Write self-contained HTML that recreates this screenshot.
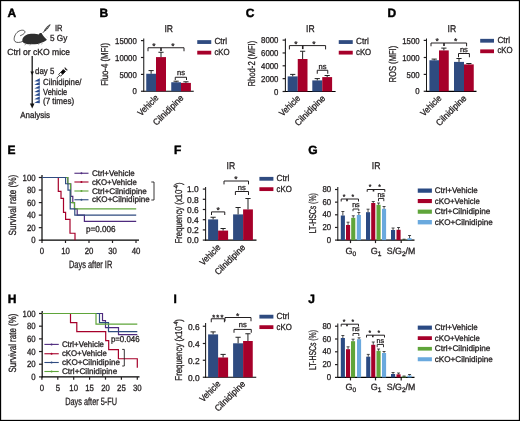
<!DOCTYPE html>
<html><head><meta charset="utf-8"><style>
html,body{margin:0;padding:0;background:#fff;}
svg{display:block;will-change:transform;}
text{text-rendering:geometricPrecision;font-family:"Liberation Sans",sans-serif;fill:#231f20;stroke:#231f20;stroke-width:0.3px;}
</style></head><body>
<svg width="520" height="421" viewBox="0 0 520 421">
<rect width="520" height="421" fill="#fff"/>
<rect x="0.5" y="0.5" width="519" height="420" fill="none" stroke="#000" stroke-width="1.3"/>
<text x="7.40" y="17.45" font-size="12" font-weight="bold" fill="#000" style="fill:#000;stroke:#000;stroke-width:0.45px">A</text>
<text x="99.50" y="17.45" font-size="12" font-weight="bold" fill="#000" style="fill:#000;stroke:#000;stroke-width:0.45px">B</text>
<text x="245.80" y="17.45" font-size="12" font-weight="bold" fill="#000" style="fill:#000;stroke:#000;stroke-width:0.45px">C</text>
<text x="387.60" y="17.45" font-size="12" font-weight="bold" fill="#000" style="fill:#000;stroke:#000;stroke-width:0.45px">D</text>
<text x="7.60" y="154.05" font-size="12" font-weight="bold" fill="#000" style="fill:#000;stroke:#000;stroke-width:0.45px">E</text>
<text x="173.90" y="154.05" font-size="12" font-weight="bold" fill="#000" style="fill:#000;stroke:#000;stroke-width:0.45px">F</text>
<text x="308.20" y="154.35" font-size="12" font-weight="bold" fill="#000" style="fill:#000;stroke:#000;stroke-width:0.45px">G</text>
<text x="7.70" y="302.85" font-size="12" font-weight="bold" fill="#000" style="fill:#000;stroke:#000;stroke-width:0.45px">H</text>
<text x="173.50" y="302.85" font-size="12" font-weight="bold" fill="#000" style="fill:#000;stroke:#000;stroke-width:0.45px">I</text>
<text x="308.20" y="302.85" font-size="12" font-weight="bold" fill="#000" style="fill:#000;stroke:#000;stroke-width:0.45px">J</text>
<line x1="143.75" y1="38.50" x2="143.75" y2="91.80" stroke="#1a1a1a" stroke-width="1.05"/>
<line x1="143.20" y1="91.25" x2="193.75" y2="91.25" stroke="#000" stroke-width="1.2"/>
<line x1="140.95" y1="91.25" x2="143.75" y2="91.25" stroke="#231f20" stroke-width="1.2"/>
<text x="136.80" y="94.40" font-size="8.5" text-anchor="end" textLength="4.34" lengthAdjust="spacingAndGlyphs">0</text>
<line x1="140.95" y1="74.40" x2="143.75" y2="74.40" stroke="#231f20" stroke-width="1.2"/>
<text x="136.80" y="77.55" font-size="8.5" text-anchor="end" textLength="17.35" lengthAdjust="spacingAndGlyphs">5000</text>
<line x1="140.95" y1="57.50" x2="143.75" y2="57.50" stroke="#231f20" stroke-width="1.2"/>
<text x="136.80" y="60.65" font-size="8.5" text-anchor="end" textLength="21.69" lengthAdjust="spacingAndGlyphs">10000</text>
<line x1="140.95" y1="40.60" x2="143.75" y2="40.60" stroke="#231f20" stroke-width="1.2"/>
<text x="136.80" y="43.75" font-size="8.5" text-anchor="end" textLength="21.69" lengthAdjust="spacingAndGlyphs">15000</text>
<rect x="146.25" y="73.75" width="9.75" height="17.50" fill="#2f4b80"/>
<line x1="151.12" y1="73.75" x2="151.12" y2="70.60" stroke="#222" stroke-width="1.0"/>
<line x1="148.53" y1="70.60" x2="153.72" y2="70.60" stroke="#222" stroke-width="1.0"/>
<rect x="156.00" y="57.10" width="10.00" height="34.15" fill="#a6002a"/>
<line x1="161.00" y1="57.10" x2="161.00" y2="52.25" stroke="#222" stroke-width="1.0"/>
<line x1="158.40" y1="52.25" x2="163.60" y2="52.25" stroke="#222" stroke-width="1.0"/>
<rect x="171.25" y="82.25" width="9.75" height="9.00" fill="#2f4b80"/>
<line x1="176.12" y1="82.25" x2="176.12" y2="81.20" stroke="#222" stroke-width="1.0"/>
<line x1="173.53" y1="81.20" x2="178.72" y2="81.20" stroke="#222" stroke-width="1.0"/>
<rect x="181.00" y="82.90" width="9.90" height="8.35" fill="#a6002a"/>
<line x1="185.95" y1="82.90" x2="185.95" y2="81.80" stroke="#222" stroke-width="1.0"/>
<line x1="183.35" y1="81.80" x2="188.55" y2="81.80" stroke="#222" stroke-width="1.0"/>
<polyline points="148.00,51.25 148.00,47.75 184.00,47.75 184.00,51.25" fill="none" stroke="#231f20" stroke-width="1.0"/>
<line x1="161.00" y1="47.75" x2="161.00" y2="50.95" stroke="#231f20" stroke-width="1.6"/>
<text x="154.00" y="48.85" font-size="8.5" text-anchor="middle">*</text>
<text x="172.90" y="48.85" font-size="8.5" text-anchor="middle">*</text>
<polyline points="175.25,80.00 175.25,77.25 186.50,77.25 186.50,80.00" fill="none" stroke="#231f20" stroke-width="1.0"/>
<text x="181.00" y="74.60" font-size="7.5" text-anchor="middle">ns</text>
<text x="168.75" y="32.10" font-size="9.8" text-anchor="middle" textLength="8.60" lengthAdjust="spacingAndGlyphs">IR</text>
<text x="0.00" y="0.00" font-size="10" text-anchor="middle" textLength="43.00" lengthAdjust="spacingAndGlyphs" transform="translate(107.90,64.35) rotate(-90)">Fluo-4 (MFI)</text>
<rect x="197.25" y="40.15" width="14.00" height="3.80" fill="#2f4b80"/>
<rect x="197.25" y="50.75" width="14.00" height="3.80" fill="#a6002a"/>
<text x="214.40" y="44.40" font-size="8.8" textLength="12.80" lengthAdjust="spacingAndGlyphs">Ctrl</text>
<text x="214.40" y="54.50" font-size="8.8" textLength="15.20" lengthAdjust="spacingAndGlyphs">cKO</text>
<text x="0.00" y="0.00" font-size="9" text-anchor="end" textLength="25.50" lengthAdjust="spacingAndGlyphs" transform="translate(159.20,98.50) rotate(-45)">Vehicle</text>
<text x="0.00" y="0.00" font-size="9" text-anchor="end" textLength="39.00" lengthAdjust="spacingAndGlyphs" transform="translate(184.20,98.50) rotate(-45)">Cilnidipine</text>
<line x1="285.40" y1="38.50" x2="285.40" y2="92.05" stroke="#1a1a1a" stroke-width="1.05"/>
<line x1="284.85" y1="91.50" x2="335.60" y2="91.50" stroke="#000" stroke-width="1.2"/>
<line x1="282.60" y1="91.50" x2="285.40" y2="91.50" stroke="#231f20" stroke-width="1.2"/>
<text x="278.40" y="94.65" font-size="8.5" text-anchor="end" textLength="4.34" lengthAdjust="spacingAndGlyphs">0</text>
<line x1="282.60" y1="78.65" x2="285.40" y2="78.65" stroke="#231f20" stroke-width="1.2"/>
<text x="278.40" y="81.80" font-size="8.5" text-anchor="end" textLength="17.35" lengthAdjust="spacingAndGlyphs">2000</text>
<line x1="282.60" y1="65.80" x2="285.40" y2="65.80" stroke="#231f20" stroke-width="1.2"/>
<text x="278.40" y="68.95" font-size="8.5" text-anchor="end" textLength="17.35" lengthAdjust="spacingAndGlyphs">4000</text>
<line x1="282.60" y1="52.95" x2="285.40" y2="52.95" stroke="#231f20" stroke-width="1.2"/>
<text x="278.40" y="56.10" font-size="8.5" text-anchor="end" textLength="17.35" lengthAdjust="spacingAndGlyphs">6000</text>
<line x1="282.60" y1="40.10" x2="285.40" y2="40.10" stroke="#231f20" stroke-width="1.2"/>
<text x="278.40" y="43.25" font-size="8.5" text-anchor="end" textLength="17.35" lengthAdjust="spacingAndGlyphs">8000</text>
<rect x="287.70" y="76.40" width="10.05" height="15.10" fill="#2f4b80"/>
<line x1="292.73" y1="76.40" x2="292.73" y2="74.40" stroke="#222" stroke-width="1.0"/>
<line x1="290.12" y1="74.40" x2="295.33" y2="74.40" stroke="#222" stroke-width="1.0"/>
<rect x="297.75" y="59.00" width="9.75" height="32.50" fill="#a6002a"/>
<line x1="302.62" y1="59.00" x2="302.62" y2="51.25" stroke="#222" stroke-width="1.0"/>
<line x1="300.02" y1="51.25" x2="305.23" y2="51.25" stroke="#222" stroke-width="1.0"/>
<rect x="312.30" y="80.40" width="9.95" height="11.10" fill="#2f4b80"/>
<line x1="317.27" y1="80.40" x2="317.27" y2="78.60" stroke="#222" stroke-width="1.0"/>
<line x1="314.67" y1="78.60" x2="319.88" y2="78.60" stroke="#222" stroke-width="1.0"/>
<rect x="322.25" y="77.10" width="9.85" height="14.40" fill="#a6002a"/>
<line x1="327.18" y1="77.10" x2="327.18" y2="75.50" stroke="#222" stroke-width="1.0"/>
<line x1="324.57" y1="75.50" x2="329.78" y2="75.50" stroke="#222" stroke-width="1.0"/>
<polyline points="289.40,49.40 289.40,45.60 325.60,45.60 325.60,49.40" fill="none" stroke="#231f20" stroke-width="1.0"/>
<line x1="302.75" y1="45.60" x2="302.75" y2="49.10" stroke="#231f20" stroke-width="1.6"/>
<text x="295.90" y="47.00" font-size="8.5" text-anchor="middle">*</text>
<text x="314.00" y="47.00" font-size="8.5" text-anchor="middle">*</text>
<polyline points="317.25,73.75 317.25,70.25 327.75,70.25 327.75,73.75" fill="none" stroke="#231f20" stroke-width="1.0"/>
<text x="322.50" y="68.75" font-size="7.5" text-anchor="middle">ns</text>
<text x="310.40" y="32.10" font-size="9.8" text-anchor="middle" textLength="8.60" lengthAdjust="spacingAndGlyphs">IR</text>
<text x="0.00" y="0.00" font-size="10" text-anchor="middle" textLength="45.80" lengthAdjust="spacingAndGlyphs" transform="translate(254.80,63.70) rotate(-90)">Rhod-2 (MFI)</text>
<rect x="338.75" y="40.15" width="14.00" height="3.80" fill="#2f4b80"/>
<rect x="338.75" y="50.75" width="14.00" height="3.80" fill="#a6002a"/>
<text x="356.00" y="44.40" font-size="8.8" textLength="12.80" lengthAdjust="spacingAndGlyphs">Ctrl</text>
<text x="356.00" y="54.50" font-size="8.8" textLength="15.20" lengthAdjust="spacingAndGlyphs">cKO</text>
<text x="0.00" y="0.00" font-size="9" text-anchor="end" textLength="25.50" lengthAdjust="spacingAndGlyphs" transform="translate(300.80,98.80) rotate(-45)">Vehicle</text>
<text x="0.00" y="0.00" font-size="9" text-anchor="end" textLength="39.00" lengthAdjust="spacingAndGlyphs" transform="translate(325.80,98.80) rotate(-45)">Cilnidipine</text>
<line x1="426.50" y1="38.50" x2="426.50" y2="91.85" stroke="#1a1a1a" stroke-width="1.05"/>
<line x1="425.95" y1="91.30" x2="476.50" y2="91.30" stroke="#000" stroke-width="1.2"/>
<line x1="423.70" y1="91.30" x2="426.50" y2="91.30" stroke="#231f20" stroke-width="1.2"/>
<text x="419.60" y="94.45" font-size="8.5" text-anchor="end" textLength="4.34" lengthAdjust="spacingAndGlyphs">0</text>
<line x1="423.70" y1="74.40" x2="426.50" y2="74.40" stroke="#231f20" stroke-width="1.2"/>
<text x="419.60" y="77.55" font-size="8.5" text-anchor="end" textLength="13.01" lengthAdjust="spacingAndGlyphs">500</text>
<line x1="423.70" y1="57.50" x2="426.50" y2="57.50" stroke="#231f20" stroke-width="1.2"/>
<text x="419.60" y="60.65" font-size="8.5" text-anchor="end" textLength="17.35" lengthAdjust="spacingAndGlyphs">1000</text>
<line x1="423.70" y1="40.40" x2="426.50" y2="40.40" stroke="#231f20" stroke-width="1.2"/>
<text x="419.60" y="43.55" font-size="8.5" text-anchor="end" textLength="17.35" lengthAdjust="spacingAndGlyphs">1500</text>
<rect x="429.40" y="60.25" width="9.60" height="31.05" fill="#2f4b80"/>
<line x1="434.20" y1="60.25" x2="434.20" y2="59.10" stroke="#222" stroke-width="1.0"/>
<line x1="431.60" y1="59.10" x2="436.80" y2="59.10" stroke="#222" stroke-width="1.0"/>
<rect x="439.00" y="50.40" width="9.75" height="40.90" fill="#a6002a"/>
<line x1="443.88" y1="50.40" x2="443.88" y2="48.10" stroke="#222" stroke-width="1.0"/>
<line x1="441.27" y1="48.10" x2="446.48" y2="48.10" stroke="#222" stroke-width="1.0"/>
<rect x="454.00" y="61.90" width="10.00" height="29.40" fill="#2f4b80"/>
<line x1="459.00" y1="61.90" x2="459.00" y2="58.50" stroke="#222" stroke-width="1.0"/>
<line x1="456.40" y1="58.50" x2="461.60" y2="58.50" stroke="#222" stroke-width="1.0"/>
<rect x="464.00" y="64.40" width="9.75" height="26.90" fill="#a6002a"/>
<line x1="468.88" y1="64.40" x2="468.88" y2="63.50" stroke="#222" stroke-width="1.0"/>
<line x1="466.27" y1="63.50" x2="471.48" y2="63.50" stroke="#222" stroke-width="1.0"/>
<polyline points="431.00,46.25 431.00,43.00 466.60,43.00 466.60,46.25" fill="none" stroke="#231f20" stroke-width="1.0"/>
<line x1="444.00" y1="43.00" x2="444.00" y2="45.95" stroke="#231f20" stroke-width="1.6"/>
<text x="437.25" y="44.10" font-size="8.5" text-anchor="middle">*</text>
<text x="455.60" y="44.10" font-size="8.5" text-anchor="middle">*</text>
<polyline points="458.50,57.25 458.50,53.50 469.40,53.50 469.40,57.25" fill="none" stroke="#231f20" stroke-width="1.0"/>
<text x="463.90" y="51.90" font-size="7.5" text-anchor="middle">ns</text>
<text x="451.90" y="32.10" font-size="9.8" text-anchor="middle" textLength="8.60" lengthAdjust="spacingAndGlyphs">IR</text>
<text x="0.00" y="0.00" font-size="10" text-anchor="middle" textLength="36.60" lengthAdjust="spacingAndGlyphs" transform="translate(395.80,64.10) rotate(-90)">ROS (MFI)</text>
<rect x="480.20" y="38.85" width="13.80" height="3.80" fill="#2f4b80"/>
<rect x="480.20" y="49.40" width="13.80" height="3.80" fill="#a6002a"/>
<text x="497.40" y="43.00" font-size="8.8" textLength="12.80" lengthAdjust="spacingAndGlyphs">Ctrl</text>
<text x="497.40" y="53.40" font-size="8.8" textLength="15.20" lengthAdjust="spacingAndGlyphs">cKO</text>
<text x="0.00" y="0.00" font-size="9" text-anchor="end" textLength="25.50" lengthAdjust="spacingAndGlyphs" transform="translate(442.00,98.80) rotate(-45)">Vehicle</text>
<text x="0.00" y="0.00" font-size="9" text-anchor="end" textLength="39.00" lengthAdjust="spacingAndGlyphs" transform="translate(467.00,98.80) rotate(-45)">Cilnidipine</text>
<line x1="205.60" y1="186.90" x2="205.60" y2="240.65" stroke="#1a1a1a" stroke-width="1.05"/>
<line x1="205.05" y1="240.10" x2="256.50" y2="240.10" stroke="#000" stroke-width="1.2"/>
<line x1="202.80" y1="240.10" x2="205.60" y2="240.10" stroke="#231f20" stroke-width="1.2"/>
<text x="198.80" y="243.40" font-size="8.5" text-anchor="end" textLength="11.68" lengthAdjust="spacingAndGlyphs">0.0</text>
<line x1="202.80" y1="229.90" x2="205.60" y2="229.90" stroke="#231f20" stroke-width="1.2"/>
<text x="198.80" y="233.20" font-size="8.5" text-anchor="end" textLength="11.68" lengthAdjust="spacingAndGlyphs">0.2</text>
<line x1="202.80" y1="219.70" x2="205.60" y2="219.70" stroke="#231f20" stroke-width="1.2"/>
<text x="198.80" y="223.00" font-size="8.5" text-anchor="end" textLength="11.68" lengthAdjust="spacingAndGlyphs">0.4</text>
<line x1="202.80" y1="209.50" x2="205.60" y2="209.50" stroke="#231f20" stroke-width="1.2"/>
<text x="198.80" y="212.80" font-size="8.5" text-anchor="end" textLength="11.68" lengthAdjust="spacingAndGlyphs">0.6</text>
<line x1="202.80" y1="199.30" x2="205.60" y2="199.30" stroke="#231f20" stroke-width="1.2"/>
<text x="198.80" y="202.60" font-size="8.5" text-anchor="end" textLength="11.68" lengthAdjust="spacingAndGlyphs">0.8</text>
<line x1="202.80" y1="189.10" x2="205.60" y2="189.10" stroke="#231f20" stroke-width="1.2"/>
<text x="198.80" y="192.40" font-size="8.5" text-anchor="end" textLength="11.68" lengthAdjust="spacingAndGlyphs">1.0</text>
<rect x="208.10" y="219.40" width="10.00" height="20.70" fill="#2f4b80"/>
<line x1="213.10" y1="219.40" x2="213.10" y2="217.25" stroke="#222" stroke-width="1.0"/>
<line x1="210.50" y1="217.25" x2="215.70" y2="217.25" stroke="#222" stroke-width="1.0"/>
<rect x="218.10" y="230.60" width="10.00" height="9.50" fill="#a6002a"/>
<line x1="223.10" y1="230.60" x2="223.10" y2="228.50" stroke="#222" stroke-width="1.0"/>
<line x1="220.50" y1="228.50" x2="225.70" y2="228.50" stroke="#222" stroke-width="1.0"/>
<rect x="233.10" y="214.40" width="10.00" height="25.70" fill="#2f4b80"/>
<line x1="238.10" y1="214.40" x2="238.10" y2="207.50" stroke="#222" stroke-width="1.0"/>
<line x1="235.50" y1="207.50" x2="240.70" y2="207.50" stroke="#222" stroke-width="1.0"/>
<rect x="243.10" y="209.40" width="9.80" height="30.70" fill="#a6002a"/>
<line x1="248.00" y1="209.40" x2="248.00" y2="198.50" stroke="#222" stroke-width="1.0"/>
<line x1="245.40" y1="198.50" x2="250.60" y2="198.50" stroke="#222" stroke-width="1.0"/>
<polyline points="211.50,215.00 211.50,211.90 224.75,211.90 224.75,215.00" fill="none" stroke="#231f20" stroke-width="1.0"/>
<text x="218.10" y="213.40" font-size="8.5" text-anchor="middle">*</text>
<polyline points="224.00,184.40 224.00,181.00 248.50,181.00 248.50,184.40" fill="none" stroke="#231f20" stroke-width="1.0"/>
<text x="236.00" y="182.20" font-size="8.5" text-anchor="middle">*</text>
<polyline points="235.40,195.00 235.40,191.50 248.50,191.50 248.50,195.00" fill="none" stroke="#231f20" stroke-width="1.0"/>
<text x="241.80" y="189.75" font-size="7.5" text-anchor="middle">ns</text>
<text x="230.90" y="168.75" font-size="9.8" text-anchor="middle" textLength="8.60" lengthAdjust="spacingAndGlyphs">IR</text>
<rect x="259.40" y="176.90" width="14.00" height="3.80" fill="#2f4b80"/>
<rect x="259.40" y="187.25" width="14.00" height="3.80" fill="#a6002a"/>
<text x="276.60" y="181.00" font-size="8.8" textLength="12.80" lengthAdjust="spacingAndGlyphs">Ctrl</text>
<text x="276.60" y="191.50" font-size="8.8" textLength="15.20" lengthAdjust="spacingAndGlyphs">cKO</text>
<text x="0.00" y="0.00" font-size="9" text-anchor="end" textLength="25.50" lengthAdjust="spacingAndGlyphs" transform="translate(221.20,248.00) rotate(-45)">Vehicle</text>
<text x="0.00" y="0.00" font-size="9" text-anchor="end" textLength="39.00" lengthAdjust="spacingAndGlyphs" transform="translate(245.80,248.00) rotate(-45)">Cilnidipine</text>
<line x1="205.60" y1="323.10" x2="205.60" y2="377.80" stroke="#1a1a1a" stroke-width="1.05"/>
<line x1="205.05" y1="377.25" x2="256.25" y2="377.25" stroke="#000" stroke-width="1.2"/>
<line x1="202.80" y1="377.25" x2="205.60" y2="377.25" stroke="#231f20" stroke-width="1.2"/>
<text x="199.60" y="380.55" font-size="8.5" text-anchor="end" textLength="11.68" lengthAdjust="spacingAndGlyphs">0.0</text>
<line x1="202.80" y1="360.25" x2="205.60" y2="360.25" stroke="#231f20" stroke-width="1.2"/>
<text x="199.60" y="363.55" font-size="8.5" text-anchor="end" textLength="11.68" lengthAdjust="spacingAndGlyphs">0.2</text>
<line x1="202.80" y1="343.50" x2="205.60" y2="343.50" stroke="#231f20" stroke-width="1.2"/>
<text x="199.60" y="346.80" font-size="8.5" text-anchor="end" textLength="11.68" lengthAdjust="spacingAndGlyphs">0.4</text>
<line x1="202.80" y1="326.25" x2="205.60" y2="326.25" stroke="#231f20" stroke-width="1.2"/>
<text x="199.60" y="329.55" font-size="8.5" text-anchor="end" textLength="11.68" lengthAdjust="spacingAndGlyphs">0.6</text>
<rect x="208.10" y="334.40" width="10.00" height="42.85" fill="#2f4b80"/>
<line x1="213.10" y1="334.40" x2="213.10" y2="331.90" stroke="#222" stroke-width="1.0"/>
<line x1="210.50" y1="331.90" x2="215.70" y2="331.90" stroke="#222" stroke-width="1.0"/>
<rect x="218.10" y="357.50" width="10.00" height="19.75" fill="#a6002a"/>
<line x1="223.10" y1="357.50" x2="223.10" y2="354.40" stroke="#222" stroke-width="1.0"/>
<line x1="220.50" y1="354.40" x2="225.70" y2="354.40" stroke="#222" stroke-width="1.0"/>
<rect x="233.10" y="343.30" width="10.00" height="33.95" fill="#2f4b80"/>
<line x1="238.10" y1="343.30" x2="238.10" y2="337.25" stroke="#222" stroke-width="1.0"/>
<line x1="235.50" y1="337.25" x2="240.70" y2="337.25" stroke="#222" stroke-width="1.0"/>
<rect x="243.10" y="341.00" width="9.65" height="36.25" fill="#a6002a"/>
<line x1="247.93" y1="341.00" x2="247.93" y2="333.75" stroke="#222" stroke-width="1.0"/>
<line x1="245.33" y1="333.75" x2="250.53" y2="333.75" stroke="#222" stroke-width="1.0"/>
<polyline points="211.25,322.25 211.25,318.75 224.40,318.75 224.40,322.25" fill="none" stroke="#231f20" stroke-width="1.0"/>
<text x="213.60" y="319.50" font-size="7.5" text-anchor="middle">*</text>
<text x="217.80" y="319.50" font-size="7.5" text-anchor="middle">*</text>
<text x="222.00" y="319.50" font-size="7.5" text-anchor="middle">*</text>
<polyline points="225.00,321.25 225.00,317.50 251.00,317.50 251.00,321.25" fill="none" stroke="#231f20" stroke-width="1.0"/>
<text x="237.75" y="318.90" font-size="8.5" text-anchor="middle">*</text>
<polyline points="234.00,332.75 234.00,329.40 251.25,329.40 251.25,332.75" fill="none" stroke="#231f20" stroke-width="1.0"/>
<text x="242.80" y="326.90" font-size="7.5" text-anchor="middle">ns</text>
<rect x="259.40" y="314.75" width="14.00" height="3.80" fill="#2f4b80"/>
<rect x="259.40" y="325.25" width="14.00" height="3.80" fill="#a6002a"/>
<text x="276.60" y="319.00" font-size="8.8" textLength="12.80" lengthAdjust="spacingAndGlyphs">Ctrl</text>
<text x="276.60" y="329.50" font-size="8.8" textLength="15.20" lengthAdjust="spacingAndGlyphs">cKO</text>
<text x="0.00" y="0.00" font-size="9" text-anchor="end" textLength="25.50" lengthAdjust="spacingAndGlyphs" transform="translate(221.20,384.50) rotate(-45)">Vehicle</text>
<text x="0.00" y="0.00" font-size="9" text-anchor="end" textLength="39.00" lengthAdjust="spacingAndGlyphs" transform="translate(245.80,384.50) rotate(-45)">Cilnidipine</text>
<g transform="translate(182.00,213.00) rotate(-90) scale(0.7754,1)"><text x="-39.33" y="0" font-size="10" fill="#231f20">Frequency (x10<tspan font-size="6.60" dy="-4.2">-4</tspan><tspan dy="4.2">)</tspan></text></g>
<g transform="translate(182.00,349.90) rotate(-90) scale(0.7818,1)"><text x="-39.33" y="0" font-size="10" fill="#231f20">Frequency (x10<tspan font-size="6.60" dy="-4.2">-4</tspan><tspan dy="4.2">)</tspan></text></g>
<line x1="337.80" y1="186.90" x2="337.80" y2="240.65" stroke="#1a1a1a" stroke-width="1.05"/>
<line x1="337.25" y1="240.10" x2="414.50" y2="240.10" stroke="#000" stroke-width="1.2"/>
<line x1="335.00" y1="240.10" x2="337.80" y2="240.10" stroke="#231f20" stroke-width="1.2"/>
<text x="331.20" y="242.70" font-size="8.5" text-anchor="end" textLength="4.34" lengthAdjust="spacingAndGlyphs">0</text>
<line x1="335.00" y1="227.45" x2="337.80" y2="227.45" stroke="#231f20" stroke-width="1.2"/>
<text x="331.20" y="230.05" font-size="8.5" text-anchor="end" textLength="8.68" lengthAdjust="spacingAndGlyphs">20</text>
<line x1="335.00" y1="214.80" x2="337.80" y2="214.80" stroke="#231f20" stroke-width="1.2"/>
<text x="331.20" y="217.40" font-size="8.5" text-anchor="end" textLength="8.68" lengthAdjust="spacingAndGlyphs">40</text>
<line x1="335.00" y1="202.15" x2="337.80" y2="202.15" stroke="#231f20" stroke-width="1.2"/>
<text x="331.20" y="204.75" font-size="8.5" text-anchor="end" textLength="8.68" lengthAdjust="spacingAndGlyphs">60</text>
<line x1="335.00" y1="189.50" x2="337.80" y2="189.50" stroke="#231f20" stroke-width="1.2"/>
<text x="331.20" y="192.10" font-size="8.5" text-anchor="end" textLength="8.68" lengthAdjust="spacingAndGlyphs">80</text>
<rect x="340.80" y="215.50" width="4.10" height="24.60" fill="#2a4a83"/>
<line x1="342.85" y1="215.50" x2="342.85" y2="211.50" stroke="#222" stroke-width="0.8"/>
<line x1="341.35" y1="211.50" x2="344.35" y2="211.50" stroke="#222" stroke-width="0.8"/>
<rect x="346.00" y="225.00" width="4.10" height="15.10" fill="#a6002a"/>
<line x1="348.05" y1="225.00" x2="348.05" y2="222.20" stroke="#222" stroke-width="0.8"/>
<line x1="346.55" y1="222.20" x2="349.55" y2="222.20" stroke="#222" stroke-width="0.8"/>
<rect x="351.20" y="217.80" width="4.10" height="22.30" fill="#5fa53a"/>
<line x1="353.25" y1="217.80" x2="353.25" y2="215.80" stroke="#222" stroke-width="0.8"/>
<line x1="351.75" y1="215.80" x2="354.75" y2="215.80" stroke="#222" stroke-width="0.8"/>
<rect x="356.80" y="215.00" width="4.10" height="25.10" fill="#6aa9de"/>
<line x1="358.85" y1="215.00" x2="358.85" y2="212.50" stroke="#222" stroke-width="0.8"/>
<line x1="357.35" y1="212.50" x2="360.35" y2="212.50" stroke="#222" stroke-width="0.8"/>
<rect x="366.00" y="212.20" width="4.10" height="27.90" fill="#2a4a83"/>
<line x1="368.05" y1="212.20" x2="368.05" y2="209.20" stroke="#222" stroke-width="0.8"/>
<line x1="366.55" y1="209.20" x2="369.55" y2="209.20" stroke="#222" stroke-width="0.8"/>
<rect x="371.20" y="203.00" width="4.10" height="37.10" fill="#a6002a"/>
<line x1="373.25" y1="203.00" x2="373.25" y2="201.50" stroke="#222" stroke-width="0.8"/>
<line x1="371.75" y1="201.50" x2="374.75" y2="201.50" stroke="#222" stroke-width="0.8"/>
<rect x="376.50" y="204.80" width="4.10" height="35.30" fill="#5fa53a"/>
<line x1="378.55" y1="204.80" x2="378.55" y2="203.00" stroke="#222" stroke-width="0.8"/>
<line x1="377.05" y1="203.00" x2="380.05" y2="203.00" stroke="#222" stroke-width="0.8"/>
<rect x="382.00" y="208.80" width="4.10" height="31.30" fill="#6aa9de"/>
<line x1="384.05" y1="208.80" x2="384.05" y2="206.50" stroke="#222" stroke-width="0.8"/>
<line x1="382.55" y1="206.50" x2="385.55" y2="206.50" stroke="#222" stroke-width="0.8"/>
<rect x="391.00" y="230.00" width="4.10" height="10.10" fill="#2a4a83"/>
<line x1="393.05" y1="230.00" x2="393.05" y2="228.00" stroke="#222" stroke-width="0.8"/>
<line x1="391.55" y1="228.00" x2="394.55" y2="228.00" stroke="#222" stroke-width="0.8"/>
<rect x="396.50" y="229.80" width="4.10" height="10.30" fill="#a6002a"/>
<line x1="398.55" y1="229.80" x2="398.55" y2="227.50" stroke="#222" stroke-width="0.8"/>
<line x1="397.05" y1="227.50" x2="400.05" y2="227.50" stroke="#222" stroke-width="0.8"/>
<rect x="402.00" y="239.70" width="4.10" height="0.40" fill="#5fa53a"/>
<line x1="404.05" y1="239.70" x2="404.05" y2="239.20" stroke="#222" stroke-width="0.8"/>
<line x1="402.55" y1="239.20" x2="405.55" y2="239.20" stroke="#222" stroke-width="0.8"/>
<rect x="407.50" y="238.20" width="4.10" height="1.90" fill="#6aa9de"/>
<line x1="409.55" y1="238.20" x2="409.55" y2="235.50" stroke="#222" stroke-width="0.8"/>
<line x1="408.05" y1="235.50" x2="411.05" y2="235.50" stroke="#222" stroke-width="0.8"/>
<line x1="350.50" y1="240.10" x2="350.50" y2="243.10" stroke="#231f20" stroke-width="1.2"/>
<line x1="375.50" y1="240.10" x2="375.50" y2="243.10" stroke="#231f20" stroke-width="1.2"/>
<line x1="401.20" y1="240.10" x2="401.20" y2="243.10" stroke="#231f20" stroke-width="1.2"/>
<polyline points="341.20,201.50 341.20,199.00 358.50,199.00 358.50,201.50" fill="none" stroke="#231f20" stroke-width="1.0"/>
<line x1="347.00" y1="199.00" x2="347.00" y2="201.20" stroke="#231f20" stroke-width="1.6"/>
<text x="344.00" y="199.28" font-size="6.8" text-anchor="middle">*</text>
<text x="352.80" y="199.28" font-size="6.8" text-anchor="middle">*</text>
<polyline points="353.00,211.20 353.00,209.00 358.80,209.00 358.80,211.20" fill="none" stroke="#231f20" stroke-width="0.9"/>
<text x="355.90" y="206.50" font-size="7.1" text-anchor="middle">ns</text>
<polyline points="367.20,191.80 367.20,189.50 384.80,189.50 384.80,191.80" fill="none" stroke="#231f20" stroke-width="1.0"/>
<line x1="373.50" y1="189.50" x2="373.50" y2="191.50" stroke="#231f20" stroke-width="1.6"/>
<text x="370.20" y="189.28" font-size="6.8" text-anchor="middle">*</text>
<text x="379.50" y="189.28" font-size="6.8" text-anchor="middle">*</text>
<polyline points="378.50,201.20 378.50,198.50 383.80,198.50 383.80,201.20" fill="none" stroke="#231f20" stroke-width="0.9"/>
<text x="381.15" y="196.50" font-size="7.1" text-anchor="middle">ns</text>
<text x="345.5" y="254.00" font-size="9">G<tspan font-size="6.6" dy="2.2">0</tspan></text>
<text x="370.7" y="254.00" font-size="9">G<tspan font-size="6.6" dy="2.2">1</tspan></text>
<text x="386.8" y="254.00" font-size="9" textLength="28.4" lengthAdjust="spacingAndGlyphs">S/G<tspan font-size="6.6" dy="2.2">2</tspan><tspan dy="-2.2">/M</tspan></text>
<text x="376.10" y="168.75" font-size="9.8" text-anchor="middle" textLength="8.60" lengthAdjust="spacingAndGlyphs">IR</text>
<rect x="417.75" y="188.50" width="14.15" height="4.25" fill="#2a4a83"/>
<text x="434.75" y="193.25" font-size="8.2" textLength="43.00" lengthAdjust="spacingAndGlyphs">Ctrl+Vehicle</text>
<rect x="417.75" y="199.00" width="14.15" height="4.10" fill="#a6002a"/>
<text x="434.75" y="203.60" font-size="8.2" textLength="45.00" lengthAdjust="spacingAndGlyphs">cKO+Vehicle</text>
<rect x="417.75" y="209.60" width="14.15" height="4.15" fill="#5fa53a"/>
<text x="434.75" y="214.25" font-size="8.2" textLength="55.65" lengthAdjust="spacingAndGlyphs">Ctrl+Cilnidipine</text>
<rect x="417.75" y="220.00" width="14.15" height="4.40" fill="#6aa9de"/>
<text x="434.75" y="224.90" font-size="8.2" textLength="58.00" lengthAdjust="spacingAndGlyphs">cKO+Cilnidipine</text>
<text x="0.00" y="0.00" font-size="10" text-anchor="middle" textLength="40.00" lengthAdjust="spacingAndGlyphs" transform="translate(316.40,213.20) rotate(-90)">LT-HSCs (%)</text>
<line x1="337.80" y1="323.60" x2="337.80" y2="377.95" stroke="#1a1a1a" stroke-width="1.05"/>
<line x1="337.25" y1="377.40" x2="414.50" y2="377.40" stroke="#000" stroke-width="1.2"/>
<line x1="335.00" y1="377.40" x2="337.80" y2="377.40" stroke="#231f20" stroke-width="1.2"/>
<text x="331.20" y="380.00" font-size="8.5" text-anchor="end" textLength="4.34" lengthAdjust="spacingAndGlyphs">0</text>
<line x1="335.00" y1="364.60" x2="337.80" y2="364.60" stroke="#231f20" stroke-width="1.2"/>
<text x="331.20" y="367.20" font-size="8.5" text-anchor="end" textLength="8.68" lengthAdjust="spacingAndGlyphs">20</text>
<line x1="335.00" y1="351.80" x2="337.80" y2="351.80" stroke="#231f20" stroke-width="1.2"/>
<text x="331.20" y="354.40" font-size="8.5" text-anchor="end" textLength="8.68" lengthAdjust="spacingAndGlyphs">40</text>
<line x1="335.00" y1="339.00" x2="337.80" y2="339.00" stroke="#231f20" stroke-width="1.2"/>
<text x="331.20" y="341.60" font-size="8.5" text-anchor="end" textLength="8.68" lengthAdjust="spacingAndGlyphs">60</text>
<line x1="335.00" y1="326.20" x2="337.80" y2="326.20" stroke="#231f20" stroke-width="1.2"/>
<text x="331.20" y="328.80" font-size="8.5" text-anchor="end" textLength="8.68" lengthAdjust="spacingAndGlyphs">80</text>
<rect x="340.80" y="338.00" width="4.10" height="39.40" fill="#2a4a83"/>
<line x1="342.85" y1="338.00" x2="342.85" y2="335.50" stroke="#222" stroke-width="0.8"/>
<line x1="341.35" y1="335.50" x2="344.35" y2="335.50" stroke="#222" stroke-width="0.8"/>
<rect x="346.00" y="349.20" width="4.10" height="28.20" fill="#a6002a"/>
<line x1="348.05" y1="349.20" x2="348.05" y2="346.80" stroke="#222" stroke-width="0.8"/>
<line x1="346.55" y1="346.80" x2="349.55" y2="346.80" stroke="#222" stroke-width="0.8"/>
<rect x="351.00" y="341.20" width="4.10" height="36.20" fill="#5fa53a"/>
<line x1="353.05" y1="341.20" x2="353.05" y2="339.20" stroke="#222" stroke-width="0.8"/>
<line x1="351.55" y1="339.20" x2="354.55" y2="339.20" stroke="#222" stroke-width="0.8"/>
<rect x="357.00" y="339.20" width="4.10" height="38.20" fill="#6aa9de"/>
<line x1="359.05" y1="339.20" x2="359.05" y2="337.80" stroke="#222" stroke-width="0.8"/>
<line x1="357.55" y1="337.80" x2="360.55" y2="337.80" stroke="#222" stroke-width="0.8"/>
<rect x="366.20" y="356.70" width="4.10" height="20.70" fill="#2a4a83"/>
<line x1="368.25" y1="356.70" x2="368.25" y2="354.40" stroke="#222" stroke-width="0.8"/>
<line x1="366.75" y1="354.40" x2="369.75" y2="354.40" stroke="#222" stroke-width="0.8"/>
<rect x="371.20" y="344.80" width="4.10" height="32.60" fill="#a6002a"/>
<line x1="373.25" y1="344.80" x2="373.25" y2="342.00" stroke="#222" stroke-width="0.8"/>
<line x1="371.75" y1="342.00" x2="374.75" y2="342.00" stroke="#222" stroke-width="0.8"/>
<rect x="376.50" y="350.80" width="4.10" height="26.60" fill="#5fa53a"/>
<line x1="378.55" y1="350.80" x2="378.55" y2="349.00" stroke="#222" stroke-width="0.8"/>
<line x1="377.05" y1="349.00" x2="380.05" y2="349.00" stroke="#222" stroke-width="0.8"/>
<rect x="382.00" y="353.00" width="4.10" height="24.40" fill="#6aa9de"/>
<line x1="384.05" y1="353.00" x2="384.05" y2="351.50" stroke="#222" stroke-width="0.8"/>
<line x1="382.55" y1="351.50" x2="385.55" y2="351.50" stroke="#222" stroke-width="0.8"/>
<rect x="391.00" y="374.00" width="4.10" height="3.40" fill="#2a4a83"/>
<line x1="393.05" y1="374.00" x2="393.05" y2="372.50" stroke="#222" stroke-width="0.8"/>
<line x1="391.55" y1="372.50" x2="394.55" y2="372.50" stroke="#222" stroke-width="0.8"/>
<rect x="396.50" y="374.30" width="4.10" height="3.10" fill="#a6002a"/>
<line x1="398.55" y1="374.30" x2="398.55" y2="373.00" stroke="#222" stroke-width="0.8"/>
<line x1="397.05" y1="373.00" x2="400.05" y2="373.00" stroke="#222" stroke-width="0.8"/>
<rect x="402.00" y="376.50" width="4.10" height="0.90" fill="#5fa53a"/>
<line x1="404.05" y1="376.50" x2="404.05" y2="376.00" stroke="#222" stroke-width="0.8"/>
<line x1="402.55" y1="376.00" x2="405.55" y2="376.00" stroke="#222" stroke-width="0.8"/>
<rect x="407.50" y="375.50" width="4.10" height="1.90" fill="#6aa9de"/>
<line x1="409.55" y1="375.50" x2="409.55" y2="374.50" stroke="#222" stroke-width="0.8"/>
<line x1="408.05" y1="374.50" x2="411.05" y2="374.50" stroke="#222" stroke-width="0.8"/>
<line x1="350.50" y1="377.40" x2="350.50" y2="380.40" stroke="#231f20" stroke-width="1.2"/>
<line x1="375.50" y1="377.40" x2="375.50" y2="380.40" stroke="#231f20" stroke-width="1.2"/>
<line x1="401.20" y1="377.40" x2="401.20" y2="380.40" stroke="#231f20" stroke-width="1.2"/>
<polyline points="341.20,326.50 341.20,324.20 358.50,324.20 358.50,326.50" fill="none" stroke="#231f20" stroke-width="1.0"/>
<line x1="347.00" y1="324.20" x2="347.00" y2="326.20" stroke="#231f20" stroke-width="1.6"/>
<text x="344.00" y="324.08" font-size="6.8" text-anchor="middle">*</text>
<text x="352.80" y="324.08" font-size="6.8" text-anchor="middle">*</text>
<polyline points="353.00,336.00 353.00,333.50 358.80,333.50 358.80,336.00" fill="none" stroke="#231f20" stroke-width="0.9"/>
<text x="355.90" y="331.20" font-size="7.1" text-anchor="middle">ns</text>
<polyline points="366.50,337.50 366.50,335.20 384.50,335.20 384.50,337.50" fill="none" stroke="#231f20" stroke-width="1.0"/>
<line x1="372.80" y1="335.20" x2="372.80" y2="337.20" stroke="#231f20" stroke-width="1.6"/>
<text x="369.80" y="335.08" font-size="6.8" text-anchor="middle">*</text>
<text x="378.80" y="335.08" font-size="6.8" text-anchor="middle">*</text>
<polyline points="377.20,347.20 377.20,344.50 383.50,344.50 383.50,347.20" fill="none" stroke="#231f20" stroke-width="0.9"/>
<text x="380.35" y="342.50" font-size="7.1" text-anchor="middle">ns</text>
<text x="345.5" y="389.80" font-size="9">G<tspan font-size="6.6" dy="2.2">0</tspan></text>
<text x="370.7" y="389.80" font-size="9">G<tspan font-size="6.6" dy="2.2">1</tspan></text>
<text x="386.8" y="389.80" font-size="9" textLength="28.4" lengthAdjust="spacingAndGlyphs">S/G<tspan font-size="6.6" dy="2.2">2</tspan><tspan dy="-2.2">/M</tspan></text>
<rect x="417.75" y="325.60" width="14.15" height="4.15" fill="#2a4a83"/>
<text x="434.75" y="330.25" font-size="8.2" textLength="43.00" lengthAdjust="spacingAndGlyphs">Ctrl+Vehicle</text>
<rect x="417.75" y="336.25" width="14.15" height="3.75" fill="#a6002a"/>
<text x="434.75" y="340.50" font-size="8.2" textLength="45.00" lengthAdjust="spacingAndGlyphs">cKO+Vehicle</text>
<rect x="417.75" y="346.90" width="14.15" height="3.70" fill="#5fa53a"/>
<text x="434.75" y="351.10" font-size="8.2" textLength="55.65" lengthAdjust="spacingAndGlyphs">Ctrl+Cilnidipine</text>
<rect x="417.75" y="357.25" width="14.15" height="4.00" fill="#6aa9de"/>
<text x="434.75" y="361.75" font-size="8.2" textLength="58.00" lengthAdjust="spacingAndGlyphs">cKO+Cilnidipine</text>
<text x="0.00" y="0.00" font-size="10" text-anchor="middle" textLength="40.00" lengthAdjust="spacingAndGlyphs" transform="translate(316.40,350.00) rotate(-90)">LT-HSCs (%)</text>
<line x1="42.00" y1="175.00" x2="42.00" y2="240.75" stroke="#1a1a1a" stroke-width="1.3"/>
<line x1="41.45" y1="240.20" x2="139.00" y2="240.20" stroke="#000" stroke-width="1.25"/>
<line x1="38.80" y1="240.20" x2="42.00" y2="240.20" stroke="#231f20" stroke-width="1.2"/>
<text x="35.60" y="243.20" font-size="9" text-anchor="end" textLength="4.34" lengthAdjust="spacingAndGlyphs">0</text>
<line x1="38.80" y1="227.66" x2="42.00" y2="227.66" stroke="#231f20" stroke-width="1.2"/>
<text x="35.60" y="230.66" font-size="9" text-anchor="end" textLength="8.68" lengthAdjust="spacingAndGlyphs">20</text>
<line x1="38.80" y1="215.12" x2="42.00" y2="215.12" stroke="#231f20" stroke-width="1.2"/>
<text x="35.60" y="218.12" font-size="9" text-anchor="end" textLength="8.68" lengthAdjust="spacingAndGlyphs">40</text>
<line x1="38.80" y1="202.58" x2="42.00" y2="202.58" stroke="#231f20" stroke-width="1.2"/>
<text x="35.60" y="205.58" font-size="9" text-anchor="end" textLength="8.68" lengthAdjust="spacingAndGlyphs">60</text>
<line x1="38.80" y1="190.04" x2="42.00" y2="190.04" stroke="#231f20" stroke-width="1.2"/>
<text x="35.60" y="193.04" font-size="9" text-anchor="end" textLength="8.68" lengthAdjust="spacingAndGlyphs">80</text>
<line x1="38.80" y1="177.50" x2="42.00" y2="177.50" stroke="#231f20" stroke-width="1.2"/>
<text x="35.60" y="180.50" font-size="9" text-anchor="end" textLength="13.01" lengthAdjust="spacingAndGlyphs">100</text>
<line x1="42.00" y1="240.20" x2="42.00" y2="243.00" stroke="#231f20" stroke-width="1.2"/>
<text x="42.00" y="253.80" font-size="9" text-anchor="middle" textLength="4.34" lengthAdjust="spacingAndGlyphs">0</text>
<line x1="65.50" y1="240.20" x2="65.50" y2="243.00" stroke="#231f20" stroke-width="1.2"/>
<text x="65.50" y="253.80" font-size="9" text-anchor="middle" textLength="8.68" lengthAdjust="spacingAndGlyphs">10</text>
<line x1="89.00" y1="240.20" x2="89.00" y2="243.00" stroke="#231f20" stroke-width="1.2"/>
<text x="89.00" y="253.80" font-size="9" text-anchor="middle" textLength="8.68" lengthAdjust="spacingAndGlyphs">20</text>
<line x1="112.50" y1="240.20" x2="112.50" y2="243.00" stroke="#231f20" stroke-width="1.2"/>
<text x="112.50" y="253.80" font-size="9" text-anchor="middle" textLength="8.68" lengthAdjust="spacingAndGlyphs">30</text>
<line x1="136.00" y1="240.20" x2="136.00" y2="243.00" stroke="#231f20" stroke-width="1.2"/>
<text x="136.00" y="253.80" font-size="9" text-anchor="middle" textLength="8.68" lengthAdjust="spacingAndGlyphs">40</text>
<polyline points="42.00,177.50 58.30,177.50 58.30,191.42 61.00,191.42 61.00,198.38 63.50,198.38 63.50,212.36 65.60,212.36 65.60,219.32 70.00,219.32 70.00,233.24 75.00,233.24 75.00,240.20 75.00,240.20" fill="none" stroke="#a6002a" stroke-width="1.2"/>
<polyline points="42.00,177.50 67.80,177.50 67.80,183.77 70.80,183.77 70.80,196.31 72.80,196.31 72.80,202.58 74.50,202.58 74.50,208.85 77.20,208.85 77.20,215.12 84.40,215.12 84.40,221.39 136.20,221.39" fill="none" stroke="#4e2a7e" stroke-width="1.2"/>
<polyline points="42.00,177.50 67.80,177.50 67.80,183.77 70.50,183.77 70.50,202.58 74.50,202.58 74.50,208.85 136.20,208.85" fill="none" stroke="#5fa53a" stroke-width="1.2"/>
<polyline points="42.00,177.50 65.60,177.50 65.60,183.77 68.00,183.77 68.00,190.04 70.20,190.04 70.20,208.85 74.80,208.85 74.80,215.12 136.20,215.12" fill="none" stroke="#2f4b80" stroke-width="1.2"/>
<line x1="74.40" y1="173.25" x2="88.50" y2="173.25" stroke="#4e2a7e" stroke-width="1.1"/>
<circle cx="81.45" cy="173.25" r="1.0" fill="#4e2a7e"/>
<text x="91.90" y="175.85" font-size="8.2" textLength="42.85" lengthAdjust="spacingAndGlyphs">Ctrl+Vehicle</text>
<line x1="74.40" y1="182.00" x2="88.50" y2="182.00" stroke="#a6002a" stroke-width="1.1"/>
<circle cx="81.45" cy="182.00" r="1.0" fill="#a6002a"/>
<text x="91.90" y="184.60" font-size="8.2" textLength="45.00" lengthAdjust="spacingAndGlyphs">cKO+Vehicle</text>
<line x1="74.40" y1="191.00" x2="88.50" y2="191.00" stroke="#5fa53a" stroke-width="1.1"/>
<circle cx="81.45" cy="191.00" r="1.0" fill="#5fa53a"/>
<text x="91.90" y="193.60" font-size="8.2" textLength="55.00" lengthAdjust="spacingAndGlyphs">Ctrl+Cilnidipine</text>
<line x1="74.40" y1="199.75" x2="88.50" y2="199.75" stroke="#2f4b80" stroke-width="1.1"/>
<circle cx="81.45" cy="199.75" r="1.0" fill="#2f4b80"/>
<text x="91.90" y="202.35" font-size="8.2" textLength="57.85" lengthAdjust="spacingAndGlyphs">cKO+Cilnidipine</text>
<polyline points="151.30,182.00 154.00,182.00 154.00,200.00 151.30,200.00" fill="none" stroke="#231f20" stroke-width="0.9"/>
<text x="86.00" y="232.00" font-size="8.6" textLength="29.60" lengthAdjust="spacingAndGlyphs">p=0.006</text>
<text x="69.00" y="267.75" font-size="10.5" textLength="43.30" lengthAdjust="spacingAndGlyphs">Days after IR</text>
<text x="0.00" y="0.00" font-size="10.5" text-anchor="middle" textLength="60.80" lengthAdjust="spacingAndGlyphs" transform="translate(15.90,205.10) rotate(-90)">Survival rate (%)</text>
<line x1="42.20" y1="311.00" x2="42.20" y2="377.45" stroke="#1a1a1a" stroke-width="1.3"/>
<line x1="41.65" y1="376.90" x2="139.50" y2="376.90" stroke="#000" stroke-width="1.25"/>
<line x1="39.00" y1="376.90" x2="42.20" y2="376.90" stroke="#231f20" stroke-width="1.2"/>
<text x="35.60" y="379.90" font-size="9" text-anchor="end" textLength="4.34" lengthAdjust="spacingAndGlyphs">0</text>
<line x1="39.00" y1="364.22" x2="42.20" y2="364.22" stroke="#231f20" stroke-width="1.2"/>
<text x="35.60" y="367.22" font-size="9" text-anchor="end" textLength="8.68" lengthAdjust="spacingAndGlyphs">20</text>
<line x1="39.00" y1="351.54" x2="42.20" y2="351.54" stroke="#231f20" stroke-width="1.2"/>
<text x="35.60" y="354.54" font-size="9" text-anchor="end" textLength="8.68" lengthAdjust="spacingAndGlyphs">40</text>
<line x1="39.00" y1="338.86" x2="42.20" y2="338.86" stroke="#231f20" stroke-width="1.2"/>
<text x="35.60" y="341.86" font-size="9" text-anchor="end" textLength="8.68" lengthAdjust="spacingAndGlyphs">60</text>
<line x1="39.00" y1="326.18" x2="42.20" y2="326.18" stroke="#231f20" stroke-width="1.2"/>
<text x="35.60" y="329.18" font-size="9" text-anchor="end" textLength="8.68" lengthAdjust="spacingAndGlyphs">80</text>
<line x1="39.00" y1="313.50" x2="42.20" y2="313.50" stroke="#231f20" stroke-width="1.2"/>
<text x="35.60" y="316.50" font-size="9" text-anchor="end" textLength="13.01" lengthAdjust="spacingAndGlyphs">100</text>
<line x1="41.90" y1="376.90" x2="41.90" y2="379.70" stroke="#231f20" stroke-width="1.2"/>
<text x="41.90" y="390.70" font-size="9" text-anchor="middle" textLength="4.34" lengthAdjust="spacingAndGlyphs">0</text>
<line x1="57.80" y1="376.90" x2="57.80" y2="379.70" stroke="#231f20" stroke-width="1.2"/>
<text x="57.80" y="390.70" font-size="9" text-anchor="middle" textLength="4.34" lengthAdjust="spacingAndGlyphs">5</text>
<line x1="73.70" y1="376.90" x2="73.70" y2="379.70" stroke="#231f20" stroke-width="1.2"/>
<text x="73.70" y="390.70" font-size="9" text-anchor="middle" textLength="8.68" lengthAdjust="spacingAndGlyphs">10</text>
<line x1="89.60" y1="376.90" x2="89.60" y2="379.70" stroke="#231f20" stroke-width="1.2"/>
<text x="89.60" y="390.70" font-size="9" text-anchor="middle" textLength="8.68" lengthAdjust="spacingAndGlyphs">15</text>
<line x1="105.50" y1="376.90" x2="105.50" y2="379.70" stroke="#231f20" stroke-width="1.2"/>
<text x="105.50" y="390.70" font-size="9" text-anchor="middle" textLength="8.68" lengthAdjust="spacingAndGlyphs">20</text>
<line x1="121.40" y1="376.90" x2="121.40" y2="379.70" stroke="#231f20" stroke-width="1.2"/>
<text x="121.40" y="390.70" font-size="9" text-anchor="middle" textLength="8.68" lengthAdjust="spacingAndGlyphs">25</text>
<line x1="137.30" y1="376.90" x2="137.30" y2="379.70" stroke="#231f20" stroke-width="1.2"/>
<text x="137.30" y="390.70" font-size="9" text-anchor="middle" textLength="8.68" lengthAdjust="spacingAndGlyphs">30</text>
<polyline points="42.20,313.50 102.50,313.50 102.50,320.54 105.50,320.54 105.50,327.57 118.50,327.57 118.50,334.61 137.30,334.61" fill="none" stroke="#4e2a7e" stroke-width="1.2"/>
<polyline points="42.20,313.50 99.50,313.50 99.50,322.57 108.50,322.57 108.50,331.63 137.30,331.63" fill="none" stroke="#2f4b80" stroke-width="1.2"/>
<polyline points="42.20,313.50 70.50,313.50 70.50,322.57 76.80,322.57 76.80,331.63 105.70,331.63 105.70,340.70 108.70,340.70 108.70,349.70 118.40,349.70 118.40,358.77 137.30,358.77 137.30,367.83 137.30,367.83" fill="none" stroke="#a6002a" stroke-width="1.2"/>
<polyline points="42.20,313.50 96.00,313.50 96.00,324.09 137.30,324.09" fill="none" stroke="#5fa53a" stroke-width="1.2"/>
<line x1="44.40" y1="344.40" x2="58.75" y2="344.40" stroke="#4e2a7e" stroke-width="1.1"/>
<circle cx="51.58" cy="344.40" r="1.0" fill="#4e2a7e"/>
<text x="61.90" y="347.00" font-size="8.2" textLength="42.10" lengthAdjust="spacingAndGlyphs">Ctrl+Vehicle</text>
<line x1="44.40" y1="353.75" x2="58.75" y2="353.75" stroke="#a6002a" stroke-width="1.1"/>
<circle cx="51.58" cy="353.75" r="1.0" fill="#a6002a"/>
<text x="61.90" y="356.35" font-size="8.2" textLength="45.00" lengthAdjust="spacingAndGlyphs">cKO+Vehicle</text>
<line x1="44.40" y1="362.50" x2="58.75" y2="362.50" stroke="#2f4b80" stroke-width="1.1"/>
<circle cx="51.58" cy="362.50" r="1.0" fill="#2f4b80"/>
<text x="61.90" y="365.10" font-size="8.2" textLength="58.10" lengthAdjust="spacingAndGlyphs">cKO+Cilnidipine</text>
<line x1="44.40" y1="371.50" x2="58.75" y2="371.50" stroke="#5fa53a" stroke-width="1.1"/>
<circle cx="51.58" cy="371.50" r="1.0" fill="#5fa53a"/>
<text x="61.90" y="374.10" font-size="8.2" textLength="55.35" lengthAdjust="spacingAndGlyphs">Ctrl+Cilnidipine</text>
<polyline points="122.20,349.40 124.30,349.40 124.30,366.00 122.20,366.00" fill="none" stroke="#231f20" stroke-width="0.9"/>
<text x="110.90" y="341.80" font-size="8.6" textLength="28.70" lengthAdjust="spacingAndGlyphs">p=0.046</text>
<text x="65.20" y="404.80" font-size="10.5" textLength="51.90" lengthAdjust="spacingAndGlyphs">Days after 5-FU</text>
<text x="0.00" y="0.00" font-size="10.5" text-anchor="middle" textLength="58.90" lengthAdjust="spacingAndGlyphs" transform="translate(15.90,343.00) rotate(-90)">Survival rate (%)</text>
<path d="M20.1,35.8 C22,35 25.6,33.4 24.8,31.4 C24,29.4 19.5,30 17,32.5 C14.5,35 13.2,39.5 15,41.5 C16.5,43 20,42.6 22.8,41.4" fill="none" stroke="#2a2a2a" stroke-width="0.8"/>
<path d="M22.3,40.5 C22.5,36.5 26.5,34 31,33.8 C34.5,33.6 37.5,34.2 39.2,34.5 C39.5,33 41.5,32.6 42,34.3 C42.8,35.5 45,37.8 46.9,39.8 C46,41 44,41.8 42,42.5 C40,43.8 36,44.3 32,44.3 C26.5,44.3 22.2,43.5 22.3,40.5 Z" fill="#2e2e2e"/>
<circle cx="40.7" cy="34.3" r="1.4" fill="#2e2e2e"/>
<path d="M24.5,45 l1.8,-1.0 M29.5,45.2 l1.8,-1.0 M38.2,44.6 l1.6,-1.2 M41.2,44.2 l1.4,-1" stroke="#999" stroke-width="0.8"/>
<path d="M46.5,36.6 l0.9,0.9" stroke="#bbb" stroke-width="0.6"/>
<g transform="translate(46.5,28.6) rotate(-48)"><ellipse cx="1.2" cy="0" rx="4.6" ry="1.0" fill="#3a3a3a"/><line x1="-5.6" y1="0.1" x2="-3" y2="0.1" stroke="#2a2a2a" stroke-width="0.8"/><path d="M-1,-0.9 L-0.2,0.9 M1,-0.9 L1.8,0.9 M3,-0.9 L3.8,0.9" stroke="#ddd" stroke-width="0.45"/></g>
<text x="54.90" y="30.60" font-size="8.8" textLength="7.60" lengthAdjust="spacingAndGlyphs">IR</text>
<text x="50.00" y="40.70" font-size="8.8" textLength="17.40" lengthAdjust="spacingAndGlyphs">5 Gy</text>
<text x="7.30" y="54.60" font-size="8.8" textLength="62.80" lengthAdjust="spacingAndGlyphs">Ctrl or cKO mice</text>
<line x1="32.20" y1="56.00" x2="32.20" y2="104.50" stroke="#1a1a1a" stroke-width="1.3"/>
<path d="M29.9,103.6 L34.5,103.6 L32.2,108.6 Z" fill="#111"/>
<path d="M30.4,71.4 L34.0,71.4 L32.2,75.2 Z" fill="#111"/>
<text x="35.10" y="74.40" font-size="8.8" textLength="19.20" lengthAdjust="spacingAndGlyphs">day 5</text>
<g transform="translate(62.0,72.9) rotate(-45)" stroke="#231f20" stroke-width="0.8"><rect x="-3.4" y="-1.35" width="6.6" height="2.7" fill="#fff"/><line x1="-3.4" y1="0" x2="-7.6" y2="0"/><rect x="-0.5" y="-1.35" width="3.7" height="2.7" fill="{INK}"/><line x1="3.2" y1="0" x2="5.4" y2="0"/><line x1="5.6" y1="-1.9" x2="5.6" y2="1.9" stroke-width="1.1"/></g>
<path d="M39.8,78.20 L39.8,81.65 L34.3,81.20 Z M39.8,81.80 L39.8,85.25 L34.3,84.80 Z M39.8,85.40 L39.8,88.85 L34.3,88.40 Z M39.8,89.00 L39.8,92.45 L34.3,92.00 Z M39.8,92.60 L39.8,96.05 L34.3,95.60 Z M39.8,96.20 L39.8,99.65 L34.3,99.20 Z M39.8,99.80 L39.8,103.25 L34.3,102.80 Z" fill="#2a4c8e"/>
<text x="43.10" y="84.90" font-size="8.8" textLength="38.40" lengthAdjust="spacingAndGlyphs">Cilnidipine/</text>
<text x="43.10" y="94.50" font-size="8.8" textLength="24.20" lengthAdjust="spacingAndGlyphs">Vehicle</text>
<text x="43.00" y="103.90" font-size="8.8" textLength="31.20" lengthAdjust="spacingAndGlyphs">(7 times)</text>
<text x="20.30" y="118.40" font-size="8.8" textLength="29.60" lengthAdjust="spacingAndGlyphs">Analysis</text>
</svg></body></html>
